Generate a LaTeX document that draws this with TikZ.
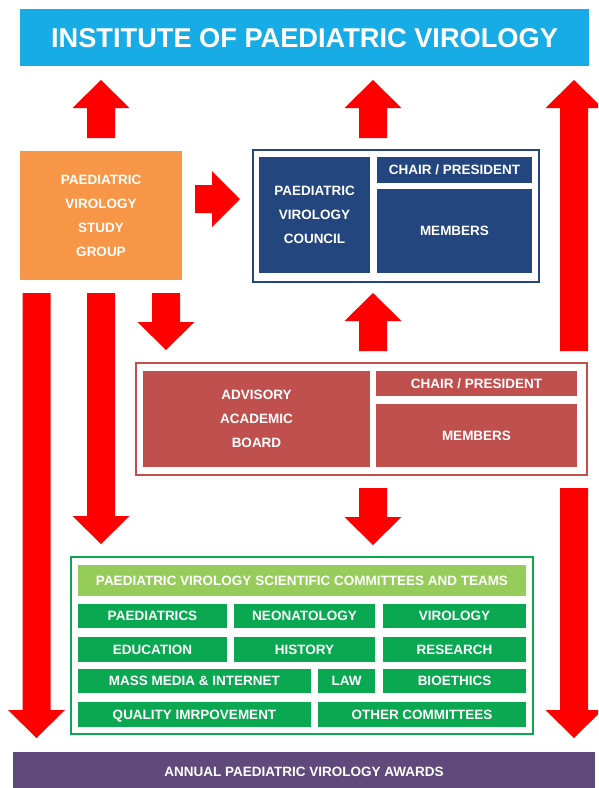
\documentclass[tikz,border=0pt]{standalone}
\usepackage{fontspec}
\setmainfont{Liberation Sans}
\definecolor{cyanbar}{RGB}{24,172,230}
\definecolor{orangebox}{RGB}{247,150,70}
\definecolor{navybox}{RGB}{35,70,127}
\definecolor{advred}{RGB}{192,80,77}
\definecolor{comgreen}{RGB}{10,168,80}
\definecolor{lightgreen}{RGB}{150,204,90}
\definecolor{awardpurple}{RGB}{96,74,123}
\definecolor{arrowred}{RGB}{255,0,0}
\tikzset{
  box/.style={rectangle, inner sep=0pt, outer sep=0pt, text=white, align=center,
    font=\fontsize{13.5}{24}\selectfont\bfseries},
  oneline/.style={box, text height=9.7pt, text depth=0pt},
  framebox/.style={rectangle, inner sep=0pt, outer sep=0pt, fill=white},
  blockarrow/.style={fill=arrowred}
}
% up arrow: x centre, y bottom, y tip (y grows downward)
\newcommand\uparr[3]{\fill[blockarrow] ({#1-14},#2) -- ({#1-14},{#3+28}) -- ({#1-28.5},{#3+28}) -- (#1,#3) -- ({#1+28.5},{#3+28}) -- ({#1+14},{#3+28}) -- ({#1+14},#2) -- cycle;}
% down arrow: x centre, y top, y tip
\newcommand\downarr[3]{\fill[blockarrow] ({#1-14},#2) -- ({#1-14},{#3-28}) -- ({#1-28.5},{#3-28}) -- (#1,#3) -- ({#1+28.5},{#3-28}) -- ({#1+14},{#3-28}) -- ({#1+14},#2) -- cycle;}
% right arrow: y centre, x start, x tip
\newcommand\rightarr[3]{\fill[blockarrow] (#2,{#1-14}) -- ({#3-28},{#1-14}) -- ({#3-28},{#1-28}) -- (#3,#1) -- ({#3-28},{#1+28}) -- ({#3-28},{#1+14}) -- (#2,{#1+14}) -- cycle;}
\begin{document}
\begin{tikzpicture}[x=1pt,y=-1pt]
\useasboundingbox (0,0) rectangle (598,788);
\clip (0,0) rectangle (598,788);
\fill[white] (0,0) rectangle (598,788);

% title banner
\node[box, fill=cyanbar, minimum width=569pt, minimum height=57pt, text height=19.5pt, text depth=0pt,
  font=\fontsize{27.2}{30}\selectfont\bfseries] (ipv) at (304.5,37.5) {INSTITUTE OF PAEDIATRIC VIROLOGY};

% study group
\node[box, fill=orangebox, minimum width=162pt, minimum height=129pt] (psg) at (101,215.5)
  {PAEDIATRIC\\VIROLOGY\\STUDY\\GROUP};

% council
\node[framebox, draw=navybox, line width=1.8pt, minimum width=286pt, minimum height=132pt] (pvcframe) at (396,216) {};
\node[box, fill=navybox, minimum width=111pt, minimum height=116pt] (pvc) at (314.5,215) {PAEDIATRIC\\VIROLOGY\\COUNCIL};
\node[oneline, fill=navybox, minimum width=155pt, minimum height=26pt] (pvcchair) at (454.5,170) {CHAIR / PRESIDENT};
\node[oneline, fill=navybox, minimum width=155pt, minimum height=84pt] (pvcmem) at (454.5,231) {MEMBERS};

% advisory board
\node[framebox, draw=advred, line width=1.5pt, minimum width=451pt, minimum height=112pt] (aabframe) at (361.5,419) {};
\node[box, fill=advred, minimum width=227pt, minimum height=96pt] (aab) at (256.5,419) {ADVISORY\\ACADEMIC\\BOARD};
\node[oneline, fill=advred, minimum width=201pt, minimum height=25pt] (aabchair) at (476.5,383.5) {CHAIR / PRESIDENT};
\node[oneline, fill=advred, minimum width=201pt, minimum height=63pt] (aabmem) at (476.5,435.5) {MEMBERS};

% committees
\node[framebox, draw=comgreen, line width=2.2pt, minimum width=462pt, minimum height=177pt] (comframe) at (302,645.5) {};
\node[oneline, fill=lightgreen, minimum width=448pt, minimum height=31pt] (comhead) at (302,580.5) {PAEDIATRIC VIROLOGY SCIENTIFIC COMMITTEES AND TEAMS};
\node[oneline, fill=comgreen, minimum width=149pt, minimum height=24pt] (c11) at (152.5,616) {PAEDIATRICS};
\node[oneline, fill=comgreen, minimum width=141pt, minimum height=24pt] (c12) at (304.5,616) {NEONATOLOGY};
\node[oneline, fill=comgreen, minimum width=143pt, minimum height=24pt] (c13) at (454.5,616) {VIROLOGY};
\node[oneline, fill=comgreen, minimum width=149pt, minimum height=25pt] (c21) at (152.5,649.5) {EDUCATION};
\node[oneline, fill=comgreen, minimum width=141pt, minimum height=25pt] (c22) at (304.5,649.5) {HISTORY};
\node[oneline, fill=comgreen, minimum width=143pt, minimum height=25pt] (c23) at (454.5,649.5) {RESEARCH};
\node[oneline, fill=comgreen, minimum width=233pt, minimum height=24pt] (c31) at (194.5,681) {MASS MEDIA \& INTERNET};
\node[oneline, fill=comgreen, minimum width=57pt, minimum height=24pt] (c32) at (346.5,681) {LAW};
\node[oneline, fill=comgreen, minimum width=143pt, minimum height=24pt] (c33) at (454.5,681) {BIOETHICS};
\node[oneline, fill=comgreen, minimum width=233pt, minimum height=25pt] (c41) at (194.5,714.5) {QUALITY IMRPOVEMENT};
\node[oneline, fill=comgreen, minimum width=208pt, minimum height=25pt] (c42) at (422,714.5) {OTHER COMMITTEES};

% awards
\node[oneline, fill=awardpurple, minimum width=582pt, minimum height=40pt] (awards) at (304,772) {ANNUAL PAEDIATRIC VIROLOGY AWARDS};

% block arrows
\uparr{101}{138}{80}
\uparr{373}{138}{80}
\uparr{574}{351}{80}
\rightarr{199}{195}{240}
\downarr{36.5}{293}{738}
\downarr{101}{293}{544}
\downarr{166}{293}{350}
\uparr{373}{351}{293}
\downarr{373}{488}{545}
\downarr{574}{488}{738}
\end{tikzpicture}
\end{document}
